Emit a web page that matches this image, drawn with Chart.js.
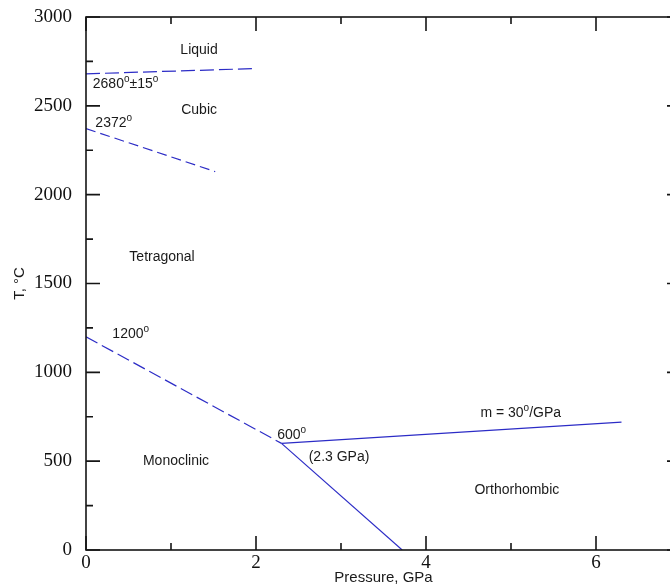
<!DOCTYPE html>
<html>
<head>
<meta charset="utf-8">
<script src="https://cdn.jsdelivr.net/npm/chart.js@4"></script>
<style>
  html, body { margin: 0; padding: 0; background: #fff; overflow: hidden; }
  #wrap { width: 700px; height: 587px; }
</style>
</head>
<body>
<div id="wrap"><canvas id="phaseChart" width="700" height="587"></canvas></div>
<script>
// phase boundaries: pressure (GPa) / temperature (°C)
const liquidCubicP = [0, 2.0];
const liquidCubicT = [2680, 2710];
const cubicTetraP = [0, 1.52];
const cubicTetraT = [2372, 2130];
const tetraMonoP = [0, 2.3];
const tetraMonoT = [1200, 600];
const tetraOrthoP = [2.3, 6.3];
const tetraOrthoT = [600, 720];
const monoOrthoP = [2.3, 3.72];
const monoOrthoT = [600, 0];

const xTicks = [0, 2, 4, 6];
const xMinorTicks = [1, 3, 5, 7];
const yTicks = [0, 500, 1000, 1500, 2000, 2500, 3000];
const yMinorTicks = [250, 750, 1250, 1750, 2250, 2750];

// region names and point labels ("^" raises the next character)
const noteText = ['Liquid', '2680^o±15^o', 'Cubic', '2372^o', 'Tetragonal', '1200^o', '600^o', '(2.3 GPa)', 'm = 30^o/GPa', 'Monoclinic', 'Orthorhombic'];
const noteP = [1.11, 0.08, 1.12, 0.11, 0.51, 0.31, 2.25, 2.62, 4.64, 0.67, 4.57];
const noteT = [2814, 2623, 2476, 2400, 1649, 1216, 647, 523, 771, 501, 338];

const blue = '#2c2cc6';

function pts(p, t) {
  return p.map((v, i) => ({ x: v, y: t[i] }));
}

function line(p, t, dash) {
  return {
    data: pts(p, t),
    borderColor: blue,
    borderWidth: 1.2,
    borderDash: dash,
    pointRadius: 0,
    fill: false,
    tension: 0
  };
}

// frame, inward ticks and text notes
const decor = {
  id: 'decor',
  afterDatasetsDraw(chart) {
    const { ctx, chartArea: a, scales: { x, y } } = chart;
    ctx.save();
    ctx.strokeStyle = '#151515';
    ctx.lineWidth = 1.6;
    ctx.strokeRect(a.left, a.top, a.right - a.left, a.bottom - a.top);

    ctx.beginPath();
    const xt = (v, len) => {
      const px = x.getPixelForValue(v);
      ctx.moveTo(px, a.bottom); ctx.lineTo(px, a.bottom - len);
      ctx.moveTo(px, a.top); ctx.lineTo(px, a.top + len);
    };
    const yt = (v, len) => {
      const py = y.getPixelForValue(v);
      ctx.moveTo(a.left, py); ctx.lineTo(a.left + len, py);
      ctx.moveTo(a.right, py); ctx.lineTo(a.right - len, py);
    };
    xTicks.forEach(v => xt(v, 14));
    xMinorTicks.forEach(v => xt(v, 7));
    yTicks.forEach(v => yt(v, 14));
    yMinorTicks.forEach(v => yt(v, 7));
    ctx.stroke();

    ctx.fillStyle = '#1a1a1a';
    ctx.textBaseline = 'middle';
    ctx.textAlign = 'left';
    noteText.forEach((txt, i) => {
      let px = x.getPixelForValue(noteP[i]);
      const py = y.getPixelForValue(noteT[i]);
      const bits = txt.split('^');
      bits.forEach((b, k) => {
        let s = b;
        if (k > 0) {
          ctx.font = '10px "Liberation Sans", Arial, sans-serif';
          ctx.fillText(s[0], px, py - 5);
          px += ctx.measureText(s[0]).width;
          s = s.slice(1);
        }
        ctx.font = '14px "Liberation Sans", Arial, sans-serif';
        ctx.fillText(s, px, py);
        px += ctx.measureText(s).width;
      });
    });
    ctx.restore();
  }
};

new Chart(document.getElementById('phaseChart'), {
  type: 'line',
  data: {
    datasets: [
      line(liquidCubicP, liquidCubicT, [14, 5]),
      line(cubicTetraP, cubicTetraT, [10, 5]),
      line(tetraMonoP, tetraMonoT, [13, 5]),
      line(tetraOrthoP, tetraOrthoT, []),
      line(monoOrthoP, monoOrthoT, [])
    ]
  },
  options: {
    responsive: false,
    animation: false,
    layout: { padding: { top: 17, right: 19, left: 0, bottom: 0 } },
    plugins: {
      legend: { display: false },
      tooltip: { enabled: false }
    },
    scales: {
      x: {
        type: 'linear',
        min: 0,
        max: 7,
        grid: { display: false, drawTicks: false },
        border: { display: false },
        afterBuildTicks: s => { s.ticks = xTicks.map(v => ({ value: v })); },
        afterFit: s => { s.height = 37; s.paddingLeft = 0; s.paddingRight = 0; },
        ticks: {
          padding: 2,
          color: '#111',
          callback: v => String(v),
          font: { family: '"Liberation Serif", "Times New Roman", serif', size: 19 }
        },
        title: {
          display: true,
          text: 'Pressure, GPa',
          color: '#1a1a1a',
          padding: { top: 0, bottom: 0 },
          font: { family: '"Liberation Sans", Arial, sans-serif', size: 15 }
        }
      },
      y: {
        type: 'linear',
        min: 0,
        max: 3000,
        grid: { display: false, drawTicks: false },
        border: { display: false },
        afterBuildTicks: s => { s.ticks = yTicks.map(v => ({ value: v })); },
        afterFit: s => { s.width = 86; s.paddingTop = 0; s.paddingBottom = 0; },
        ticks: {
          padding: 14,
          color: '#111',
          callback: v => String(v),
          font: { family: '"Liberation Serif", "Times New Roman", serif', size: 19 }
        },
        title: {
          display: true,
          text: 'T, °C',
          color: '#1a1a1a',
          padding: { top: 11, bottom: 0 },
          font: { family: '"Liberation Sans", Arial, sans-serif', size: 15 }
        }
      }
    }
  },
  plugins: [decor]
});
</script>
</body>
</html>
